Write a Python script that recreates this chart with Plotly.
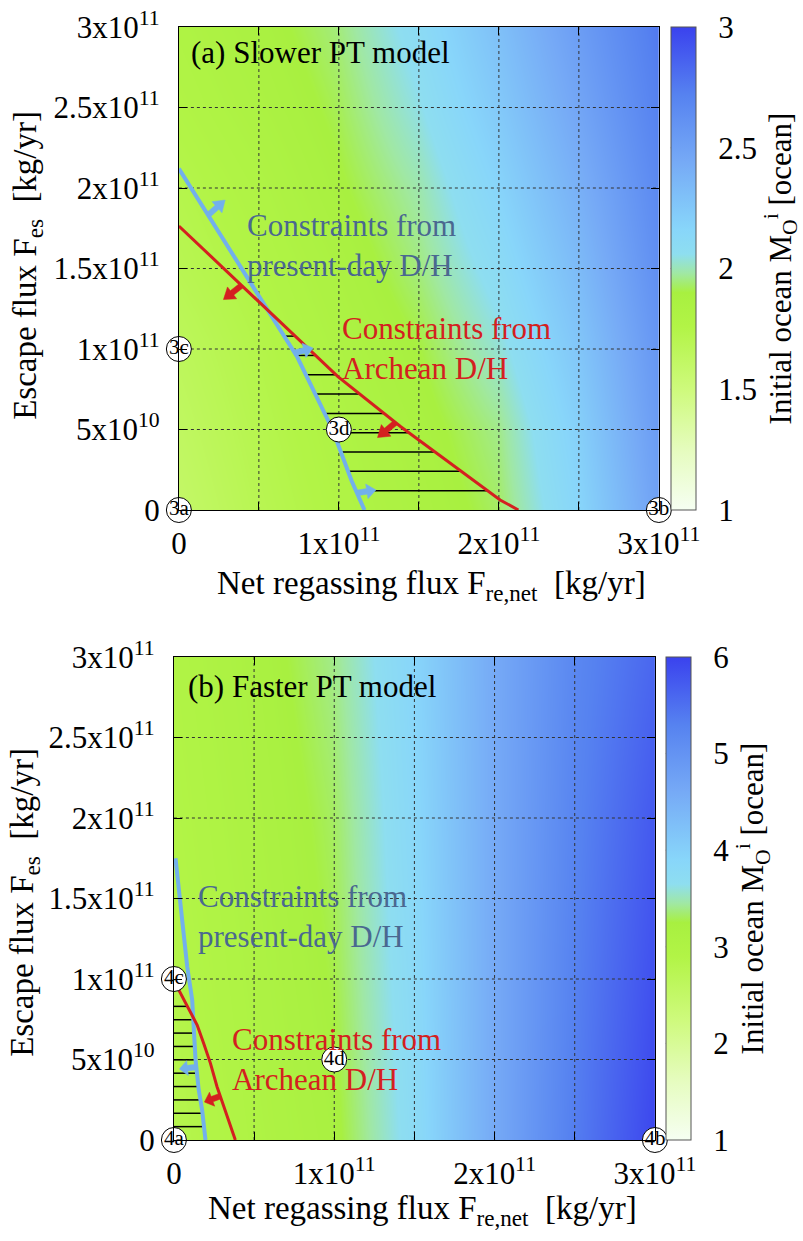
import plotly.graph_objects as go
import numpy as np

# ---------------- data (fluxes in units of 1e11 kg/yr) ----------------
x_grid = [0.0, 0.5, 1.0, 1.5, 2.0, 2.5, 3.0]

# (a) Slower PT model: initial ocean mass [ocean]
y_grid_a = [0.0, 0.5, 1.0, 1.5, 2.0, 2.5, 3.0]
M_a = [
    [1.60, 1.70, 1.78, 1.85, 1.93, 2.16, 2.50],
    [1.63, 1.72, 1.80, 1.87, 1.96, 2.20, 2.54],
    [1.66, 1.74, 1.82, 1.90, 2.03, 2.26, 2.58],
    [1.70, 1.77, 1.85, 1.95, 2.10, 2.33, 2.63],
    [1.73, 1.80, 1.89, 1.99, 2.17, 2.40, 2.67],
    [1.77, 1.84, 1.92, 2.05, 2.24, 2.47, 2.72],
    [1.80, 1.87, 1.95, 2.10, 2.30, 2.53, 2.76],
]
# (b) Faster PT model
y_grid_b = [0.0, 1.0, 2.0, 3.0]
M_b = [
    [2.80, 3.00, 3.20, 3.75, 4.60, 5.35, 5.95],
    [2.85, 3.05, 3.27, 3.80, 4.60, 5.30, 5.85],
    [2.90, 3.10, 3.32, 3.85, 4.60, 5.25, 5.75],
    [2.95, 3.15, 3.40, 3.90, 4.60, 5.20, 5.60],
]

# constraint curves
blue_a_x = [0.0, 0.33, 0.52, 0.74, 0.96, 1.08, 1.16]
blue_a_y = [2.12, 1.60, 1.30, 0.95, 0.50, 0.18, 0.0]
red_a_x = [0.0, 0.497, 0.994, 1.387, 2.008, 2.122]
red_a_y = [1.764, 1.294, 0.828, 0.517, 0.062, 0.0]

blue_b_x = [0.01, 0.031, 0.04, 0.083, 0.114, 0.124, 0.135, 0.155, 0.176, 0.197]
blue_b_y = [1.75, 1.553, 1.49, 1.076, 0.87, 0.683, 0.497, 0.31, 0.186, 0.0]
red_b_x = [0.0, 0.042, 0.145, 0.186, 0.228, 0.269, 0.321, 0.383]
red_b_y = [0.99, 0.91, 0.714, 0.6, 0.476, 0.331, 0.186, 0.0]

hatch_y_a = [0.12, 0.24, 0.36, 0.48, 0.60, 0.72, 0.84, 0.96, 1.08, 1.20]
hatch_y_b = [0.083, 0.166, 0.249, 0.332, 0.415, 0.498, 0.581, 0.664, 0.747, 0.83]

point_labels_a = ["3a", "3b", "3c", "3d"]
point_labels_b = ["4a", "4b", "4c", "4d"]
point_x = [0, 3, 0, 1]
point_y = [0, 0, 1, 0.5]

# direction arrows: tail point on the curve (data) and direction (screen px, up positive)
arrows_a_blue = [(0.183, 1.832, 17, 15), (0.72, 0.975, 19, 5), (1.113, 0.106, 19, 3)]
arrows_a_red = [(0.391, 1.394, -18, -14), (1.354, 0.543, -18, -15)]
arrows_b_blue = [(0.14, 0.453, -17, -2)]
arrows_b_red = [(0.29, 0.273, -16, -6)]

ytick_vals = [0, 0.5, 1, 1.5, 2, 2.5, 3]
ytick_text = ["0", "5x10<sup>10</sup>", "1x10<sup>11</sup>", "1.5x10<sup>11</sup>",
              "2x10<sup>11</sup>", "2.5x10<sup>11</sup>", "3x10<sup>11</sup>"]
xtick_vals = [0, 1, 2, 3]
xtick_text = ["0", "1x10<sup>11</sup>", "2x10<sup>11</sup>", "3x10<sup>11</sup>"]
grid_vals = [0.5, 1.0, 1.5, 2.0, 2.5]

cbar_a_ticks = [1, 1.5, 2, 2.5, 3]
cbar_b_ticks = [1, 2, 3, 4, 5, 6]

# ---------------- style ----------------
W, H = 803, 1241
FONT = "Liberation Serif, Times New Roman, serif"
BLUE = "#72b0ec"
BLUE_TXT = "#4a6890"
RED = "#d42020"
colorscale = [
    [0.00, "#f6fff2"], [0.12, "#e6fcc0"], [0.25, "#cefa7c"], [0.38, "#b2f446"],
    [0.45, "#a8f040"], [0.49, "#a0e8a4"], [0.53, "#8edef0"], [0.58, "#88d6fa"],
    [0.72, "#76aaf6"], [0.86, "#5682f0"], [1.00, "#3a42ee"],
]


def px(x):
    return x / W


def py(y):
    return 1 - y / H


# panel pixel boxes (left, right, top, bottom)
box_a = (180, 663, 27, 510)
box_b = (175, 659, 657, 1140)
cb_a = (675, 700)
cb_b = (670, 695)

fig = go.Figure()


def add_panel(xa, ya, yg, M, cax, blue_x, blue_y, red_x, red_y, hatch_y, mode, labels):
    fig.add_trace(go.Heatmap(x=x_grid, y=yg, z=M, coloraxis=cax, zsmooth="best",
                             xaxis=xa, yaxis=ya, hoverinfo="skip"))
    # dotted grid
    gx, gy = [], []
    for g in grid_vals:
        gx += [g, g, None]
        gy += [0, 3, None]
        gx += [0, 3, None]
        gy += [g, g, None]
    fig.add_trace(go.Scatter(x=gx, y=gy, mode="lines", xaxis=xa, yaxis=ya,
                             line=dict(color="#333333", width=1, dash="dot"),
                             hoverinfo="skip", showlegend=False))
    # hatching
    bx_r, by_r = blue_x[::-1], blue_y[::-1]
    rx_r, ry_r = red_x[::-1], red_y[::-1]
    hx, hy = [], []
    for yy in hatch_y:
        xb = float(np.interp(yy, by_r, bx_r))
        xr = float(np.interp(yy, ry_r, rx_r))
        if mode == "between":
            x0, x1 = xb, xr
        else:
            x0 = 0.0
            x1 = min(xb, xr) if yy <= max(red_y) else xb
        if x1 > x0:
            hx += [x0, x1, None]
            hy += [yy, yy, None]
    fig.add_trace(go.Scatter(x=hx, y=hy, mode="lines", xaxis=xa, yaxis=ya,
                             line=dict(color="black", width=1.5),
                             hoverinfo="skip", showlegend=False))
    fig.add_trace(go.Scatter(x=blue_x, y=blue_y, mode="lines", xaxis=xa, yaxis=ya,
                             line=dict(color=BLUE, width=4), hoverinfo="skip", showlegend=False))
    fig.add_trace(go.Scatter(x=red_x, y=red_y, mode="lines", xaxis=xa, yaxis=ya,
                             line=dict(color=RED, width=3), hoverinfo="skip", showlegend=False))
    # labelled circles
    fig.add_trace(go.Scatter(x=point_x, y=point_y, mode="markers+text", text=labels,
                             textposition="middle center", xaxis=xa, yaxis=ya, cliponaxis=False,
                             marker=dict(size=25, color="white", line=dict(color="black", width=1)),
                             textfont=dict(family=FONT, size=21, color="black"),
                             hoverinfo="skip", showlegend=False))


add_panel("x", "y", y_grid_a, M_a, "coloraxis", blue_a_x, blue_a_y, red_a_x, red_a_y,
          hatch_y_a, "between", point_labels_a)
add_panel("x2", "y2", y_grid_b, M_b, "coloraxis2", blue_b_x, blue_b_y, red_b_x, red_b_y,
          hatch_y_b, "left", point_labels_b)

axis_common = dict(range=[0, 3], showgrid=False, zeroline=False, showline=True, linecolor="black",
                   linewidth=1, mirror="ticks", ticks="inside", ticklen=8, tickcolor="black",
                   layer="above traces", tickfont=dict(family=FONT, size=31, color="black"),
                   automargin=False, fixedrange=True)
xminor = dict(tickvals=[0.5, 1.5, 2.5], ticks="inside", ticklen=8, tickcolor="black", showgrid=False)

fig.update_layout(
    width=W, height=H, template="none",
    margin=dict(l=0, r=0, t=0, b=0),
    paper_bgcolor="white", plot_bgcolor="white",
    font=dict(family=FONT, size=31, color="black"),
    showlegend=False,
    xaxis=dict(domain=[px(box_a[0]), px(box_a[1])], anchor="y", tickvals=xtick_vals,
               ticktext=xtick_text, ticklabelstandoff=6, minor=xminor, **axis_common),
    yaxis=dict(domain=[py(box_a[3]), py(box_a[2])], anchor="x", tickvals=ytick_vals,
               ticktext=ytick_text, ticklabelstandoff=12, **axis_common),
    xaxis2=dict(domain=[px(box_b[0]), px(box_b[1])], anchor="y2", tickvals=xtick_vals,
                ticktext=xtick_text, ticklabelstandoff=6, minor=xminor, **axis_common),
    yaxis2=dict(domain=[py(box_b[3]), py(box_b[2])], anchor="x2", tickvals=ytick_vals,
                ticktext=ytick_text, ticklabelstandoff=12, **axis_common),
)


def cbar(x_left, box, ticks):
    return dict(
        x=px(x_left), xanchor="left", xpad=0,
        y=(py(box[3]) + py(box[2])) / 2, yanchor="middle", ypad=0,
        len=(box[3] - box[2]) / H, lenmode="fraction",
        thickness=cb_a[1] - cb_a[0], thicknessmode="pixels",
        outlinecolor="#555", outlinewidth=1,
        tickvals=ticks, ticktext=[str(t) for t in ticks],
        ticks="outside", ticklen=16, tickcolor="rgba(0,0,0,0)",
        tickfont=dict(family=FONT, size=31, color="black"),
        title=dict(text="Initial ocean M<sub>O</sub><sup>i</sup> [ocean]", side="right",
                   font=dict(family=FONT, size=31, color="black")),
    )


fig.update_layout(
    coloraxis=dict(colorscale=colorscale, cmin=1, cmax=3, colorbar=cbar(cb_a[0], box_a, cbar_a_ticks)),
    coloraxis2=dict(colorscale=colorscale, cmin=1, cmax=6, colorbar=cbar(cb_b[0], box_b, cbar_b_ticks)),
)

shapes = []
# dashed tick marks inside colorbars
for (cb, box, ticks, lo, hi) in [(cb_a, box_a, cbar_a_ticks, 1, 3), (cb_b, box_b, cbar_b_ticks, 1, 6)]:
    for t in ticks[1:-1]:
        yp = box[3] - (t - lo) / (hi - lo) * (box[3] - box[2])
        for (a, b) in [(cb[0], cb[0] + 9), (cb[1] - 9, cb[1])]:
            shapes.append(dict(type="line", xref="paper", yref="paper", x0=px(a), x1=px(b),
                               y0=py(yp), y1=py(yp), line=dict(color="#444", width=1), layer="above"))


# fat direction arrows (polygon in pixel offsets, anchored at the tail on the curve)
def arrow_shape(xa, ya, spec, color):
    x, y, dx, dy = spec
    L = float(np.hypot(dx, dy))
    ux, uy = dx / L, dy / L
    nx, ny = -uy, ux
    Ls, w, hw = L * 0.52, 2.8, 7.5
    pts = [
        (nx * w, ny * w),
        (ux * Ls + nx * w, uy * Ls + ny * w),
        (ux * Ls + nx * hw, uy * Ls + ny * hw),
        (ux * L, uy * L),
        (ux * Ls - nx * hw, uy * Ls - ny * hw),
        (ux * Ls - nx * w, uy * Ls - ny * w),
        (-nx * w, -ny * w),
    ]
    path = "M" + " L".join(f"{a:.2f},{b:.2f}" for a, b in pts) + " Z"
    return dict(type="path", xref=xa, yref=ya, xsizemode="pixel", ysizemode="pixel",
                xanchor=x, yanchor=y, path=path, fillcolor=color,
                line=dict(color=color, width=0.5), layer="above")


for s in arrows_a_blue:
    shapes.append(arrow_shape("x", "y", s, BLUE))
for s in arrows_a_red:
    shapes.append(arrow_shape("x", "y", s, RED))
for s in arrows_b_blue:
    shapes.append(arrow_shape("x2", "y2", s, BLUE))
for s in arrows_b_red:
    shapes.append(arrow_shape("x2", "y2", s, RED))
fig.update_layout(shapes=shapes)

ann = []
txt = dict(showarrow=False, xanchor="left", yanchor="middle", align="left")
ann += [
    dict(x=0.062, y=2.84, xref="x", yref="y", text="(a) Slower PT model",
         font=dict(family=FONT, size=31, color="black"), **txt),
    dict(x=0.416, y=1.643, xref="x", yref="y", text="Constraints from<br>present-day D/H",
         font=dict(family=FONT, size=31, color=BLUE_TXT), **txt),
    dict(x=1.01, y=1.003, xref="x", yref="y", text="Constraints from<br>Archean D/H",
         font=dict(family=FONT, size=31, color=RED), **txt),
    dict(x=0.073, y=2.816, xref="x2", yref="y2", text="(b) Faster PT model",
         font=dict(family=FONT, size=31, color="black"), **txt),
    dict(x=0.135, y=1.388, xref="x2", yref="y2", text="Constraints from<br>present-day D/H",
         font=dict(family=FONT, size=31, color=BLUE_TXT), **txt),
    dict(x=0.352, y=0.497, xref="x2", yref="y2", text="Constraints from<br>Archean D/H",
         font=dict(family=FONT, size=31, color=RED), **txt),
]
# axis titles
ytitle = "Escape flux F<sub>es</sub>\u00a0\u00a0[kg/yr]"
xtitle = "Net regassing flux F<sub>re,net</sub>\u00a0\u00a0[kg/yr]"
tt = dict(xref="paper", yref="paper", showarrow=False, xanchor="center", yanchor="middle",
          font=dict(family=FONT, size=33, color="black"))
ann += [
    dict(x=px(28), y=py(265), text=ytitle, textangle=-90, **tt),
    dict(x=px(434), y=py(585), text=xtitle, **tt),
    dict(x=px(24), y=py(902), text=ytitle, textangle=-90, **tt),
    dict(x=px(425), y=py(1210), text=xtitle, **tt),
]
fig.update_layout(annotations=ann)

fig.write_html("out.html", config={"displayModeBar": False},
               post_script="document.body.style.margin='0px';")
